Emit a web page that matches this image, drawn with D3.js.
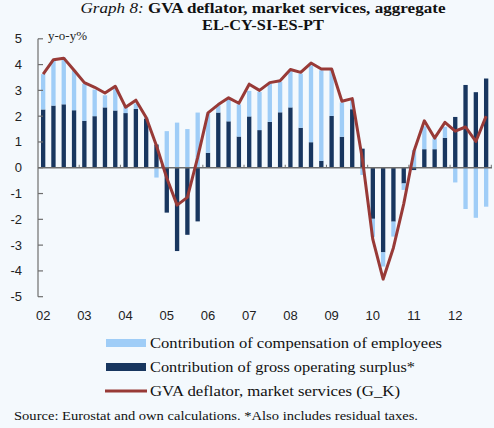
<!DOCTYPE html>
<html><head><meta charset="utf-8">
<script src="https://cdn.jsdelivr.net/npm/d3@7"></script>
<style>
html,body{margin:0;padding:0;background:#F4F9FD;}
svg{display:block;}
</style></head>
<body>
<svg id="c" width="494" height="428"></svg>
<script>
// quarters 2002Q1 .. 2012Q4
const years = ["02","03","04","05","06","07","08","09","10","11","12"];
const quarters = years.flatMap(y => ["Q1","Q2","Q3","Q4"].map(q => y + q));
const compensation = [1.37,1.76,1.81,1.55,1.44,1.03,0.47,0.91,0.27,0.21,0.05,-0.38,
  1.42,1.75,1.50,2.14,1.52,0.29,0.88,1.25,0.99,1.48,1.48,1.18,
  1.41,2.10,2.98,3.51,1.79,1.33,0.38,-0.28,-0.70,-0.55,-0.58,-0.25,
  0.68,0.89,0.42,0.43,-0.57,-1.60,-1.94,-1.51];
const surplus = [2.26,2.41,2.46,2.23,1.82,2.00,2.34,2.22,2.12,2.28,1.91,0.90,
  -1.74,-3.23,-2.60,-2.08,0.58,2.14,1.80,1.21,1.99,1.46,1.78,2.15,
  2.34,1.55,0.99,0.27,2.01,1.20,2.27,0.74,-1.98,-3.28,-2.09,-0.61,
  -0.09,0.72,0.72,1.16,1.97,3.21,2.93,3.46];
const deflator = [3.63,4.19,4.25,3.78,3.30,3.12,2.90,3.16,2.35,2.62,1.95,0.85,
  -0.40,-1.45,-1.15,0.40,2.13,2.45,2.71,2.50,3.24,3.00,3.30,3.37,
  3.81,3.70,4.06,3.83,3.83,2.58,2.68,0.30,-2.78,-4.32,-3.10,-1.40,
  0.65,1.82,1.15,1.76,1.42,1.58,1.02,2.00];
const yTicks = [5,4,3,2,1,0,-1,-2,-3,-4,-5];
const legendLabels = ["Contribution of compensation of employees",
  "Contribution of gross operating surplus*",
  "GVA deflator, market services (G_K)"];

const C_COMP = "#9FCDF7", C_GOS = "#18365F", C_LINE = "#983A37", C_AXIS = "#6E6E6E";
const serif = "'Liberation Serif','Times New Roman',serif";
const sans = "'Liberation Sans',Arial,sans-serif";

const svg = d3.select("#c");
const x = d3.scaleBand().domain(quarters).range([38, 491.3]).paddingInner(0.58).paddingOuter(0.29);
const y = d3.scaleLinear().domain([-5, 5]).range([296.7, 38.8]);

// title
const t = svg.append("text").attr("x", 263).attr("y", 12.5).attr("text-anchor", "middle")
  .attr("font-family", serif).attr("font-size", 14).attr("fill", "#111")
  .attr("textLength", 365).attr("lengthAdjust", "spacingAndGlyphs");
t.append("tspan").attr("font-style", "italic").text("Graph 8: ");
t.append("tspan").attr("font-weight", "bold").text("GVA deflator, market services, aggregate");
svg.append("text").attr("x", 263).attr("y", 30).attr("text-anchor", "middle")
  .attr("font-family", serif).attr("font-size", 14).attr("font-weight", "bold").attr("fill", "#111")
  .attr("textLength", 122).attr("lengthAdjust", "spacingAndGlyphs")
  .text("EL-CY-SI-ES-PT");

// bars
const rows = quarters.map((q, i) => ({q, gos: surplus[i], comp: compensation[i]}));
const stack = d3.stack().keys(["gos", "comp"]).offset(d3.stackOffsetDiverging);
const series = stack(rows);
const colors = {gos: C_GOS, comp: C_COMP};
svg.append("g").selectAll("g").data(series).join("g")
  .attr("fill", d => colors[d.key])
  .selectAll("rect").data(d => d).join("rect")
  .attr("x", d => x(d.data.q))
  .attr("width", x.bandwidth())
  .attr("y", d => y(Math.max(d[0], d[1])))
  .attr("height", d => Math.abs(y(d[0]) - y(d[1])));

// y axis
const ya = svg.append("g");
ya.append("line").attr("x1", 38).attr("x2", 38).attr("y1", y(5)).attr("y2", y(-5))
  .attr("stroke", C_AXIS).attr("stroke-width", 1.2);
ya.selectAll("line.t").data(yTicks).join("line").attr("class", "t")
  .attr("x1", 38).attr("x2", 43).attr("y1", d => y(d)).attr("y2", d => y(d))
  .attr("stroke", C_AXIS).attr("stroke-width", 1.2);
ya.selectAll("text").data(yTicks).join("text")
  .attr("x", 22).attr("y", d => y(d) + 4.5).attr("text-anchor", "end")
  .attr("font-family", sans).attr("font-size", 13).attr("fill", "#222")
  .text(d => d);
svg.append("text").attr("x", 48).attr("y", 40).attr("font-family", serif)
  .attr("font-size", 13).attr("fill", "#222").text("y-o-y%");

// zero line + year ticks
svg.append("line").attr("x1", 38).attr("x2", 492).attr("y1", y(0)).attr("y2", y(0))
  .attr("stroke", C_AXIS).attr("stroke-width", 1.4);
const step = x.step();
const yearBounds = years.slice(1).map(yr => x(yr + "Q1") - (step - x.bandwidth()) / 2).concat([491.3]);
svg.selectAll("line.yt").data(yearBounds).join("line").attr("class", "yt")
  .attr("x1", d => d).attr("x2", d => d).attr("y1", y(0)).attr("y2", y(0) - 3)
  .attr("stroke", C_AXIS).attr("stroke-width", 1);
svg.selectAll("text.xl").data(years).join("text").attr("class", "xl")
  .attr("x", d => x(d + "Q1") + x.bandwidth() / 2).attr("y", 320)
  .attr("text-anchor", "middle").attr("font-family", sans).attr("font-size", 13).attr("fill", "#222")
  .text(d => d);

// line
const line = d3.line().x((d, i) => x(quarters[i]) + x.bandwidth() / 2).y(d => y(d));
svg.append("path").datum(deflator).attr("d", line).attr("fill", "none")
  .attr("stroke", C_LINE).attr("stroke-width", 3).attr("stroke-linejoin", "round");

// legend
const lg = svg.append("g");
const ly = [343, 367, 391];
const lw = [292, 265, 250];
lg.append("rect").attr("x", 106).attr("y", ly[0] - 4).attr("width", 40).attr("height", 8).attr("fill", C_COMP);
lg.append("rect").attr("x", 106).attr("y", ly[1] - 4).attr("width", 40).attr("height", 8).attr("fill", C_GOS);
lg.append("line").attr("x1", 105).attr("x2", 147).attr("y1", ly[2]).attr("y2", ly[2])
  .attr("stroke", C_LINE).attr("stroke-width", 3);
lg.selectAll("text").data(legendLabels).join("text")
  .attr("x", 150).attr("y", (d, i) => ly[i] + 5)
  .attr("font-family", serif).attr("font-size", 15).attr("fill", "#111")
  .attr("textLength", (d, i) => lw[i]).attr("lengthAdjust", "spacingAndGlyphs")
  .text(d => d);

svg.append("text").attr("x", 14).attr("y", 420).attr("font-family", serif)
  .attr("font-size", 12.5).attr("fill", "#111").attr("textLength", 404).attr("lengthAdjust", "spacingAndGlyphs")
  .text("Source: Eurostat and own calculations. *Also includes residual taxes.");
</script>
</body></html>
